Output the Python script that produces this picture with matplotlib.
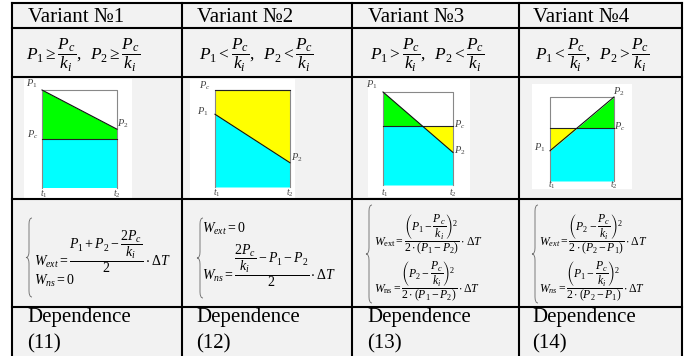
import numpy as np
import matplotlib
matplotlib.use('Agg')
import matplotlib.pyplot as plt
from matplotlib.patches import Rectangle, PathPatch
from matplotlib.path import Path

plt.rcParams['mathtext.fontset'] = 'custom'
plt.rcParams['mathtext.rm'] = 'Liberation Serif'
plt.rcParams['mathtext.it'] = 'Liberation Serif:italic'
plt.rcParams['mathtext.bf'] = 'Liberation Serif:bold'
plt.rcParams['mathtext.fallback'] = 'stix'
plt.rcParams['font.family'] = ['Liberation Serif', 'DejaVu Serif']

W, H = 686, 356

# table content
headers = ['Variant №1', 'Variant №2', 'Variant №3', 'Variant №4']
conditions = [
    r'$P_1 \geq \dfrac{P_c}{k_i},\;\; P_2 \geq \dfrac{P_c}{k_i}$',
    r'$P_1 < \dfrac{P_c}{k_i},\;\; P_2 < \dfrac{P_c}{k_i}$',
    r'$P_1 > \dfrac{P_c}{k_i},\;\; P_2 < \dfrac{P_c}{k_i}$',
    r'$P_1 < \dfrac{P_c}{k_i},\;\; P_2 > \dfrac{P_c}{k_i}$',
]
ext_formulas = [
    r'$W_{ext} = \dfrac{P_1 + P_2 - \dfrac{2P_c}{k_i}}{2} \cdot \mathit{\Delta T}$',
    r'$W_{ext} = 0$',
    r'$W_{\mathrm{ext}} = \dfrac{\left(P_1 - \dfrac{P_c}{k_i}\right)^2}{2\cdot(P_1 - P_2)} \cdot \Delta T$',
    r'$W_{ext} = \dfrac{\left(P_2 - \dfrac{P_c}{k_i}\right)^2}{2\cdot(P_2 - P_1)} \cdot \mathit{\Delta T}$',
]
ns_formulas = [
    r'$W_{ns} = 0$',
    r'$W_{ns} = \dfrac{\dfrac{2P_c}{k_i} - P_1 - P_2}{2} \cdot \mathit{\Delta T}$',
    r'$W_{\mathrm{ns}} = \dfrac{\left(P_2 - \dfrac{P_c}{k_i}\right)^2}{2\cdot(P_1 - P_2)} \cdot \Delta T$',
    r'$W_{ns} = \dfrac{\left(P_1 - \dfrac{P_c}{k_i}\right)^2}{2\cdot(P_2 - P_1)} \cdot \mathit{\Delta T}$',
]
dep_word = 'Dependence'
dep_numbers = ['(11)', '(12)', '(13)', '(14)']

# diagram levels (relative units, bottom of box = 0)
p1_vals = [1.00, 0.75, 1.00, 0.36]
p2_vals = [0.60, 0.25, 0.35, 1.00]
pc_vals = [0.50, 1.00, 0.63, 0.63]

# layout in pixels (y down)
col_x = [12, 182, 352, 519, 682]
row_y = [3, 28, 76.5, 199, 307]
panel_boxes = [(24, 79, 132, 198), (190, 79, 295, 198), (368, 79, 470, 197), (532, 84, 632, 189)]
plot_boxes = [(42, 90, 117, 188), (215, 90, 290, 187), (383, 92, 453, 185), (550, 97, 614, 181)]
text_x = [28, 197, 368, 533]
cond_x = [26, 199, 370, 535]
formula_x = [34, 202, 374, 539]
ext_base = [265, 233, 246, 246]
ns_base = [285, 279, 293, 293]
brace_x = [29, 200, 369, 535]
brace_y = [(218, 297), (218, 298), (205, 303), (205, 303)]
formula_size = [10, 10, 8.5, 8.5]
label_layout = [
    [('$P_1$', 0, 'p1', -10, 6), ('$P_c$', 0, 'pc', -9, 4), ('$P_2$', 1, 'p2', 6, 5)],
    [('$P_c$', 0, 'pc', -10, 4), ('$P_1$', 0, 'p1', -12, 2), ('$P_2$', 1, 'p2', 7, 5)],
    [('$P_1$', 0, 'p1', -11, 7), ('$P_c$', 1, 'pc', 7, 2), ('$P_2$', 1, 'p2', 7, 2)],
    [('$P_2$', 1, 'p2', 5, 5), ('$P_c$', 1, 'pc', 6, 1), ('$P_1$', 0, 'p1', -10, 3)],
]
t_dy = [-6, -6, -8, -4]

fig = plt.figure(figsize=(W / 100, H / 100), dpi=100)
fig.patch.set_facecolor('white')
ax = fig.add_axes([0, 0, 1, 1])
ax.set_xlim(0, W)
ax.set_ylim(H, 0)
ax.axis('off')

cell_color = '#f2f2f2'
ax.add_patch(Rectangle((col_x[0], row_y[0]), col_x[-1] - col_x[0], H - row_y[0],
                       facecolor=cell_color, edgecolor='none'))

for (x0, y0, x1, y1) in panel_boxes:
    ax.add_patch(Rectangle((x0, y0), x1 - x0, y1 - y0, facecolor='white', edgecolor='none'))

lw = 1.5
for x in col_x:
    ax.plot([x, x], [row_y[0], H + 5], color='black', lw=lw, solid_capstyle='projecting')
for y in row_y:
    ax.plot([col_x[0], col_x[-1]], [y, y], color='black', lw=lw, solid_capstyle='projecting')


def draw_brace(x, y0, y1):
    ym = (y0 + y1) / 2
    d = 3
    verts = [(x + d, y0), (x, y0), (x, y0 + 2 * d),
             (x, ym - 2 * d), (x, ym), (x - d, ym),
             (x, ym), (x, ym + 2 * d),
             (x, y1 - 2 * d), (x, y1), (x + d, y1)]
    codes = [Path.MOVETO, Path.CURVE3, Path.CURVE3,
             Path.LINETO, Path.CURVE3, Path.CURVE3,
             Path.CURVE3, Path.CURVE3,
             Path.LINETO, Path.CURVE3, Path.CURVE3]
    ax.add_patch(PathPatch(Path(verts, codes), facecolor='none', edgecolor='#666666', lw=0.6))


for i in range(4):
    ax.text(text_x[i], 22.5, headers[i], fontsize=15, va='baseline', ha='left')
    ax.text(cond_x[i], 55, conditions[i], fontsize=12.5, va='center', ha='left')
    ax.text(formula_x[i], ext_base[i], ext_formulas[i], fontsize=formula_size[i],
            va='baseline', ha='left')
    ax.text(formula_x[i], ns_base[i], ns_formulas[i], fontsize=formula_size[i],
            va='baseline', ha='left')
    draw_brace(brace_x[i], *brace_y[i])
    ax.text(text_x[i] - 1, 322, dep_word, fontsize=15, va='baseline', ha='left')
    ax.text(text_x[i] - 1, 348, dep_numbers[i], fontsize=15, va='baseline', ha='left')

# row 3: power diagrams
for i in range(4):
    p1, p2, pc = p1_vals[i], p2_vals[i], pc_vals[i]
    top = max(p1, p2, pc)
    x0, y0, x1, y1 = plot_boxes[i]
    ia = fig.add_axes([x0 / W, 1 - y1 / H, (x1 - x0) / W, (y1 - y0) / H])
    ia.set_xlim(0, 1)
    ia.set_ylim(0, top)
    ia.axis('off')
    t = [0.0, 1.0]
    tc = (pc - p1) / (p2 - p1)
    if 0 < tc < 1:
        t = [0.0, tc, 1.0]
    t = np.array(t)
    line = p1 + (p2 - p1) * t
    ia.fill_between(t, 0, np.minimum(line, pc), color='#00ffff', lw=0)
    ia.fill_between(t, pc, np.maximum(line, pc), color='#00ff00', lw=0)
    ia.fill_between(t, np.minimum(line, pc), pc, color='#ffff00', lw=0)
    ia.plot([0, 0, 1, 1], [0, top, top, 0], color='#888888', lw=0.8, clip_on=False)
    ia.plot([0, 1], [pc, pc], color='#222222', lw=0.8, clip_on=False)
    ia.plot([0, 1], [p1, p2], color='#111111', lw=0.8, clip_on=False)
    vals = {'p1': p1, 'p2': p2, 'pc': pc}
    for (lab, tx, key, dx, dy) in label_layout[i]:
        ia.annotate(lab, xy=(tx, vals[key]), xytext=(dx, dy), textcoords='offset pixels',
                    fontsize=7.5, color='#444444', ha='center', va='center',
                    annotation_clip=False)
    ia.annotate('$t_1$', xy=(0, 0), xytext=(2, t_dy[i]), textcoords='offset pixels',
                fontsize=7, color='#444444', ha='center', va='center', annotation_clip=False)
    ia.annotate('$t_2$', xy=(1, 0), xytext=(0, t_dy[i]), textcoords='offset pixels',
                fontsize=7, color='#444444', ha='center', va='center', annotation_clip=False)

fig.savefig('out.png', dpi=100)
